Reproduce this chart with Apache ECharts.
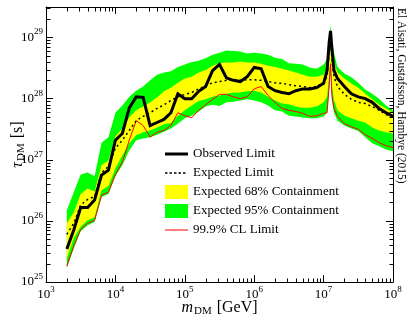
<!DOCTYPE html>
<html>
<head>
<meta charset="utf-8">
<script src="https://cdn.jsdelivr.net/npm/echarts@6/dist/echarts.min.js"></script>
<style>
  html, body { margin: 0; padding: 0; background: #fff; }
  #chart { width: 411px; height: 322px; }
</style>
</head>
<body>
<div id="chart"></div>
<script>
// x: log10(m_DM / GeV), y: log10(tau_DM / s)
const massExp = [3.3, 3.4, 3.5, 3.6, 3.7, 3.8, 3.9, 4.0, 4.1, 4.2, 4.3, 4.4, 4.5, 4.6, 4.7, 4.8, 4.9, 5.0, 5.1, 5.2,
  5.3, 5.4, 5.5, 5.6, 5.7, 5.8, 5.9, 6.0, 6.1, 6.2, 6.3, 6.4, 6.5, 6.6, 6.7, 6.8, 6.9, 7.0, 7.05, 7.08,
  7.1, 7.12, 7.15, 7.2, 7.3, 7.4, 7.5, 7.6, 7.7, 7.8, 7.9, 8.0];

const observedExp = [25.54, 25.85, 26.22, 26.22, 26.34, 26.75, 26.83, 27.32, 27.43, 27.85, 28.03, 28.02, 27.56, 27.61, 27.66, 27.77, 28.08, 28.00, 28.00, 28.12,
  28.20, 28.46, 28.56, 28.34, 28.30, 28.28, 28.36, 28.51, 28.49, 28.20, 28.13, 28.10, 28.08, 28.13, 28.16, 28.16, 28.18, 28.25, 28.46, 28.92,
  29.11, 28.82, 28.46, 28.33, 28.20, 28.08, 28.03, 28.00, 27.94, 27.84, 27.77, 27.71];

const expectedExp = [25.78, 25.96, 26.26, 26.35, 26.40, 26.79, 26.89, 27.19, 27.32, 27.48, 27.64, 27.71, 27.77, 27.84, 27.90, 27.97, 28.03, 28.07, 28.10, 28.16,
  28.21, 28.26, 28.28, 28.30, 28.30, 28.30, 28.31, 28.31, 28.30, 28.28, 28.26, 28.25, 28.23, 28.21, 28.20, 28.18, 28.20, 28.26, 28.36, 28.75,
  29.01, 28.62, 28.36, 28.20, 28.07, 27.99, 27.94, 27.92, 27.87, 27.81, 27.74, 27.69];

const band68Hi = [25.96, 26.14, 26.44, 26.53, 26.48, 26.91, 26.99, 27.38, 27.51, 27.69, 27.81, 27.87, 27.94, 28.02, 28.12, 28.18, 28.26, 28.33, 28.36, 28.43,
  28.47, 28.54, 28.58, 28.59, 28.59, 28.61, 28.59, 28.59, 28.57, 28.54, 28.52, 28.49, 28.46, 28.43, 28.39, 28.36, 28.36, 28.39, 28.49, 28.87,
  29.14, 28.82, 28.59, 28.43, 28.33, 28.25, 28.18, 28.08, 27.99, 27.90, 27.84, 27.77];

const band68Lo = [25.39, 25.72, 25.91, 26.01, 26.06, 26.50, 26.57, 26.86, 27.07, 27.27, 27.40, 27.45, 27.48, 27.53, 27.58, 27.60, 27.72, 27.81, 27.89, 27.96,
  27.99, 28.03, 28.05, 28.08, 28.10, 28.10, 28.12, 28.13, 28.10, 28.03, 27.97, 27.92, 27.91, 27.87, 27.85, 27.85, 27.87, 27.94, 28.03, 28.38,
  28.62, 28.21, 27.97, 27.81, 27.72, 27.68, 27.64, 27.61, 27.53, 27.48, 27.45, 27.43];

const band95Hi = [26.17, 26.47, 26.76, 26.79, 26.73, 27.28, 27.37, 27.77, 27.89, 28.03, 28.13, 28.20, 28.30, 28.39, 28.43, 28.45, 28.52, 28.56, 28.60, 28.62,
  28.66, 28.72, 28.75, 28.79, 28.78, 28.77, 28.74, 28.75, 28.74, 28.72, 28.67, 28.65, 28.58, 28.57, 28.56, 28.51, 28.49, 28.56, 28.65, 28.95,
  29.21, 28.95, 28.75, 28.52, 28.41, 28.35, 28.26, 28.15, 28.08, 28.00, 27.89, 27.81];

const band95Lo = [25.23, 25.55, 25.83, 25.93, 25.98, 26.39, 26.44, 26.73, 26.91, 27.15, 27.32, 27.35, 27.37, 27.41, 27.46, 27.51, 27.59, 27.68, 27.72, 27.79,
  27.87, 27.90, 27.88, 27.94, 27.95, 27.97, 27.99, 27.97, 27.94, 27.89, 27.81, 27.79, 27.72, 27.71, 27.69, 27.68, 27.68, 27.71, 27.77, 28.16,
  28.46, 27.97, 27.77, 27.64, 27.56, 27.51, 27.47, 27.37, 27.27, 27.22, 27.17, 27.14];

const cl999Exp = [25.26, 25.59, 25.86, 25.96, 26.01, 26.42, 26.47, 26.76, 26.96, 27.32, 27.64, 27.56, 27.37, 27.45, 27.48, 27.56, 27.77, 27.72, 27.69, 27.81,
  27.90, 27.99, 28.07, 28.07, 28.03, 28.00, 28.03, 28.16, 28.20, 28.05, 27.94, 27.84, 27.81, 27.79, 27.76, 27.71, 27.72, 27.76, 27.77, 28.21,
  28.57, 28.05, 27.84, 27.71, 27.59, 27.54, 27.50, 27.41, 27.35, 27.28, 27.23, 27.20];

// axis ranges (decades)
const xRange = [3, 8];
const yRange = [25, 29.5];

const FONT = 'Liberation Serif';
const pairs = ys => massExp.map((x, i) => [x, ys[i]]);

// 10^n labels
function powLabel(v) {
  if (Math.abs(v - Math.round(v)) > 1e-6) return '';
  return '{b|10}{s|' + Math.round(v) + '}';
}
const powRich = {
  b: { fontFamily: FONT, fontSize: 13, color: '#000' },
  s: { fontFamily: FONT, fontSize: 9, color: '#000', padding: [0, 0, 11, 0] }
};
const nameRich = {
  i: { fontFamily: FONT, fontSize: 16, fontStyle: 'italic', color: '#000' },
  sub: { fontFamily: FONT, fontSize: 11, color: '#000', padding: [8, 1, 0, 1] }
};

// log minor ticks (2..9 in each decade), all four sides
const minorTicks = [];
for (let d = xRange[0]; d < xRange[1]; d++) {
  for (let k = 2; k <= 9; k++) {
    const v = d + Math.log10(k);
    minorTicks.push([v, yRange[0], 0], [v, yRange[1], 1]);
  }
}
for (let d = yRange[0]; d < Math.ceil(yRange[1]); d++) {
  for (let k = 2; k <= 9; k++) {
    const v = d + Math.log10(k);
    if (v <= yRange[1]) minorTicks.push([xRange[0], v, 2], [xRange[1], v, 3]);
  }
}

// band between hi and lo, drawn as one polygon through the axis scales
function bandSeries(name, hi, lo, color, z) {
  return {
    name, type: 'custom', z, silent: true,
    data: [[massExp[0], lo[0]]],
    itemStyle: { color },
    renderItem: (params, api) => {
      const pts = [];
      massExp.forEach((x, i) => pts.push(api.coord([x, hi[i]])));
      for (let i = massExp.length - 1; i >= 0; i--) pts.push(api.coord([massExp[i], lo[i]]));
      return { type: 'polygon', shape: { points: pts }, style: { fill: color } };
    }
  };
}

const axisCommon = {
  type: 'value',
  interval: 1,
  splitLine: { show: false },
  axisLine: { show: true, onZero: false, lineStyle: { color: '#000', width: 1 } },
  axisTick: { show: true, inside: true, length: 7, lineStyle: { color: '#000', width: 1 } }
};

// legend icons (23 x 14 box)
const iconSolid = 'path://M0,0L23,0L23,0Z M0,5.5L23,5.5L23,8.5L0,8.5Z M0,14L23,14L23,14Z';
const iconDotted = 'path://M0,0L23,0L23,0Z M0,6.3L2.5,6.3L2.5,7.7L0,7.7Z M4.5,6.3L7,6.3L7,7.7L4.5,7.7Z M9,6.3L11.5,6.3L11.5,7.7L9,7.7Z M13.5,6.3L16,6.3L16,7.7L13.5,7.7Z M18,6.3L20.5,6.3L20.5,7.7L18,7.7Z M0,14L23,14L23,14Z';
const iconThin = 'path://M0,0L23,0L23,0Z M0,6.5L23,6.5L23,7.5L0,7.5Z M0,14L23,14L23,14Z';

const chart = echarts.init(document.getElementById('chart'));
chart.setOption({
  animation: false,
  backgroundColor: '#fff',
  grid: { left: 46, right: 18, top: 7, bottom: 40, outerBoundsMode: 'none' },
  xAxis: [
    {
      ...axisCommon, min: xRange[0], max: xRange[1], position: 'bottom',
      axisLabel: { formatter: powLabel, rich: powRich, margin: 3 },
      name: '{i|m}{sub|DM} [GeV]', nameLocation: 'middle', nameGap: 16, nameMoveOverlap: false,
      nameTextStyle: { fontFamily: FONT, fontSize: 16, color: '#000', rich: nameRich }
    },
    { ...axisCommon, min: xRange[0], max: xRange[1], position: 'top', axisLabel: { show: false } }
  ],
  yAxis: [
    {
      ...axisCommon, min: yRange[0], max: yRange[1], position: 'left',
      axisLabel: { formatter: powLabel, rich: powRich, margin: 3 },
      name: '{i|τ}{sub|DM} [s]', nameLocation: 'middle', nameGap: 19, nameRotate: 90, nameMoveOverlap: false,
      nameTextStyle: { fontFamily: FONT, fontSize: 16, color: '#000', rich: nameRich }
    },
    { ...axisCommon, min: yRange[0], max: yRange[1], position: 'right', axisLabel: { show: false } }
  ],
  legend: {
    orient: 'vertical', left: 160, top: 142,
    itemWidth: 23, itemHeight: 14, itemGap: 5,
    textStyle: { fontFamily: FONT, fontSize: 13, color: '#000', lineHeight: 14 },
    data: [
      { name: 'Observed Limit', icon: iconSolid, itemStyle: { color: '#000', borderWidth: 0 } },
      { name: 'Expected Limit', icon: iconDotted, itemStyle: { color: '#000', borderWidth: 0 } },
      { name: 'Expected 68% Containment', icon: 'rect', itemStyle: { color: '#ffff00', borderWidth: 0 } },
      { name: 'Expected 95% Containment', icon: 'rect', itemStyle: { color: '#00ff00', borderWidth: 0 } },
      { name: '99.9% CL Limit', icon: iconThin, itemStyle: { color: '#ff0000', borderWidth: 0 } }
    ]
  },
  graphic: [{
    type: 'text', x: 401, y: 8, rotation: -Math.PI / 2,
    style: {
      text: 'El Aisati, Gustafsson, Hambye (2015)',
      fontFamily: FONT, fontSize: 11.5, fill: '#000',
      align: 'left', verticalAlign: 'middle'
    }
  }],
  series: [
    bandSeries('Expected 95% Containment', band95Hi, band95Lo, '#00ff00', 1),
    bandSeries('Expected 68% Containment', band68Hi, band68Lo, '#ffff00', 2),
    {
      name: '99.9% CL Limit', type: 'line', data: pairs(cl999Exp), symbol: 'none',
      itemStyle: { color: '#ff0000' }, lineStyle: { color: '#ff0000', width: 1 }, z: 3
    },
    {
      name: 'Expected Limit', type: 'line', data: pairs(expectedExp), symbol: 'none',
      itemStyle: { color: '#000' }, lineStyle: { color: '#000', width: 1.5, type: [2, 3] }, z: 4
    },
    {
      name: 'Observed Limit', type: 'line', data: pairs(observedExp), symbol: 'none',
      itemStyle: { color: '#000' }, lineStyle: { color: '#000', width: 3, join: 'miter' }, z: 5
    },
    {
      name: 'minorTicks', type: 'custom', data: minorTicks, silent: true, z: 6,
      renderItem: (params, api) => {
        const p = api.coord([api.value(0), api.value(1)]);
        const side = api.value(2);
        const L = 4;
        const x1 = Math.round(p[0]) + 0.5, y1 = Math.round(p[1]) + 0.5;
        let x2 = x1, y2 = y1;
        if (side === 0) y2 -= L;
        else if (side === 1) y2 += L;
        else if (side === 2) x2 += L;
        else x2 -= L;
        return { type: 'line', shape: { x1, y1, x2, y2 }, style: { stroke: '#000', lineWidth: 1 } };
      }
    }
  ]
});
</script>
</body>
</html>
